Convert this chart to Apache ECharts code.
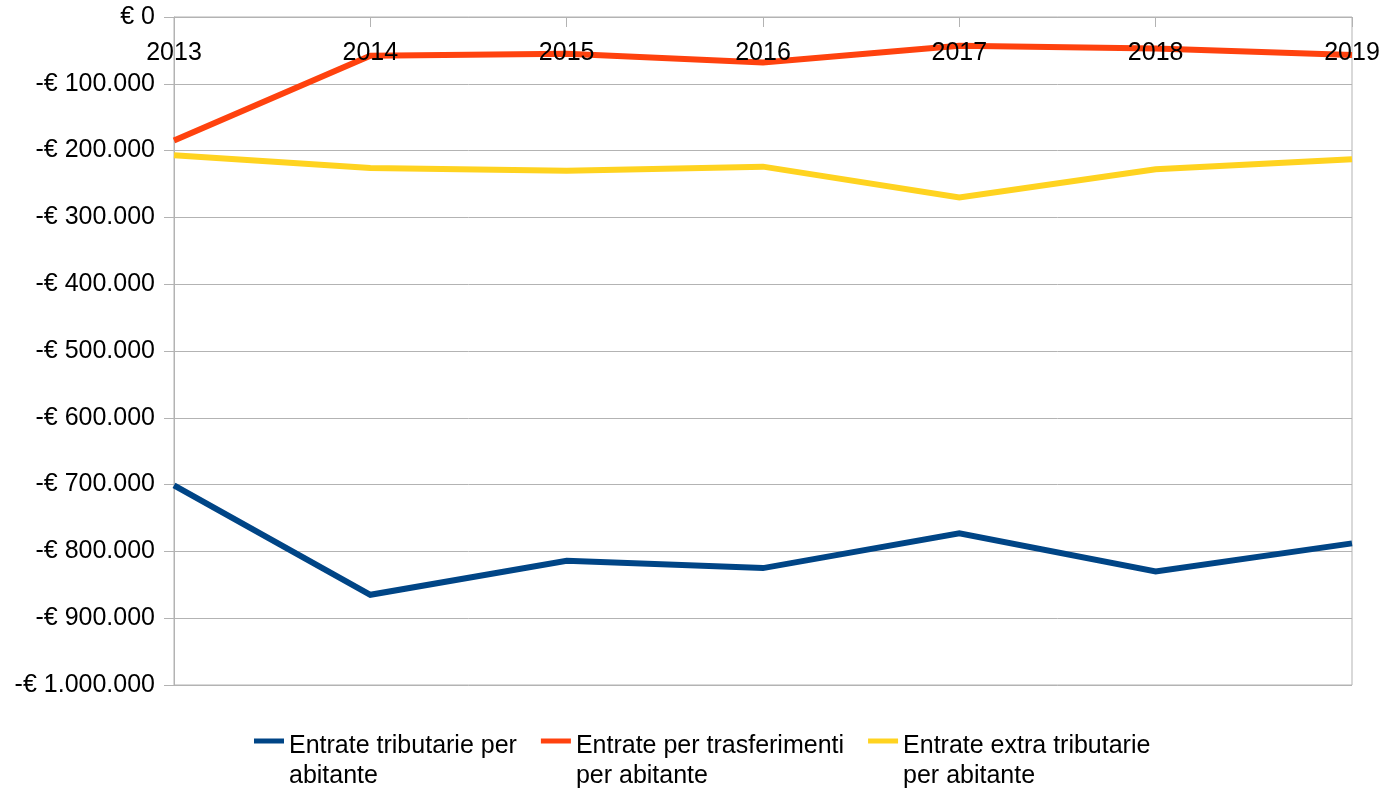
<!DOCTYPE html>
<html>
<head>
<meta charset="utf-8">
<script src="https://cdn.jsdelivr.net/npm/echarts@6/dist/echarts.min.js"></script>
<style>
  html, body { margin: 0; padding: 0; background: #fff; }
  #main { width: 1386px; height: 795px; }
</style>
</head>
<body>
<div id="main"></div>
<script>
var years = ['2013', '2014', '2015', '2016', '2017', '2018', '2019'];
var seriesNames = [
  'Entrate tributarie per abitante',
  'Entrate per trasferimenti per abitante',
  'Entrate extra tributarie per abitante'
];
// righe della legenda come nell'originale
var legendLines = [
  ['Entrate tributarie per', 'abitante'],
  ['Entrate per trasferimenti', 'per abitante'],
  ['Entrate extra tributarie', 'per abitante']
];
var tributarie = [-701000, -865000, -814000, -825000, -773000, -830000, -788000];
var trasferimenti = [-185000, -58000, -55000, -68000, -43000, -47000, -57000];
var extraTributarie = [-207000, -226000, -230000, -224000, -270000, -228000, -213000];
var colors = ['#004586', '#ff420e', '#ffd320'];

var FONT = '"Liberation Sans", Arial, sans-serif';
var GRAY = '#b3b3b3';

function euro(v) {
  if (v === 0) return '€ 0';
  var s = Math.abs(v).toString().replace(/\B(?=(\d{3})+(?!\d))/g, '.');
  return (v < 0 ? '-€ ' : '€ ') + s;
}

var chart = echarts.init(document.getElementById('main'), null, { renderer: 'canvas' });

function lineSeries(i, data) {
  return {
    name: seriesNames[i],
    type: 'line',
    data: data,
    symbol: 'none',
    color: colors[i],
    lineStyle: { width: 6, color: colors[i], join: 'miter' },
    animation: false
  };
}

var option = {
  backgroundColor: '#fff',
  animation: false,
  grid: {
    left: 174, right: 34, top: 17, bottom: 110,
    show: true, borderColor: GRAY, borderWidth: 1
  },
  legend: {
    data: seriesNames,
    left: 254,
    top: 706,
    padding: 0,
    itemGap: 24,
    itemWidth: 30,
    itemHeight: 5,
    icon: 'rect',
    formatter: function (name) {
      var l = legendLines[seriesNames.indexOf(name)];
      // riga vuota in testa: la prima riga resta all'altezza dell'icona
      return '{pad| }\n{t|' + l[0] + '}\n{t|' + l[1] + '}';
    },
    textStyle: {
      fontFamily: FONT, fontSize: 25, color: '#000',
      rich: {
        pad: { fontFamily: FONT, fontSize: 10, lineHeight: 40 },
        t: { fontFamily: FONT, fontSize: 25, lineHeight: 30, color: '#000' }
      }
    }
  },
  xAxis: {
    type: 'category',
    data: years,
    position: 'top',
    boundaryGap: false,
    z: 5, // etichette sopra le linee, come nell'originale
    axisLine: { show: true, lineStyle: { color: GRAY, width: 1 } },
    axisTick: { show: true, inside: true, length: 10, lineStyle: { color: GRAY } },
    axisLabel: {
      inside: true, margin: 24, color: '#000',
      fontFamily: FONT, fontSize: 25
    },
    splitLine: { show: false }
  },
  yAxis: {
    type: 'value',
    min: -1000000,
    max: 0,
    interval: 100000,
    axisLine: { show: true, lineStyle: { color: GRAY, width: 1 } },
    axisTick: { show: true, length: 10, lineStyle: { color: GRAY } },
    axisLabel: {
      margin: 19, color: '#000',
      fontFamily: FONT, fontSize: 25,
      formatter: euro
    },
    splitLine: { show: true, lineStyle: { color: GRAY, width: 1 } }
  },
  series: [
    lineSeries(0, tributarie),
    lineSeries(1, trasferimenti),
    lineSeries(2, extraTributarie)
  ]
};

chart.setOption(option);
</script>
</body>
</html>
